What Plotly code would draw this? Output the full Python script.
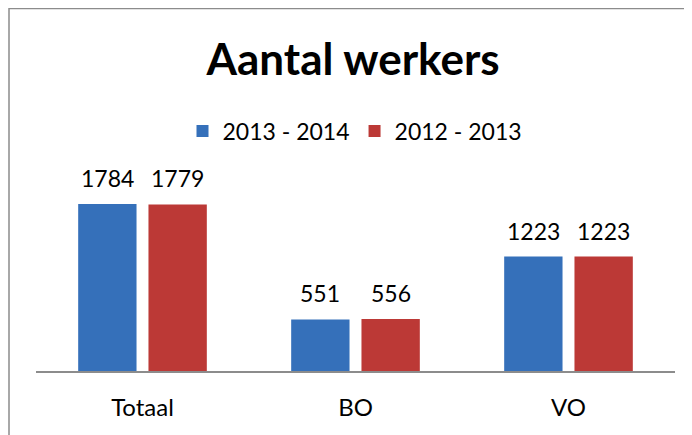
import plotly.graph_objects as go

categories = ["Totaal", "BO", "VO"]
series_names = ["2013 - 2014", "2012 - 2013"]
values_2013_2014 = [1784, 551, 1223]
values_2012_2013 = [1779, 556, 1223]
title_text = "Aantal werkers"

FONT = "Lato, Calibri, Carlito, sans-serif"
OFF = 8  # browser default body margin
W, H = 692 - OFF, 435 - OFF
ML, MR, MT, MB = 36 - OFF, 17, 140 - OFF, 64
PW, PH = W - ML - MR, H - MT - MB
BARGAP, GROUPGAP = 0.34, 0.17
COLORS = ["#3570BA", "#BC3936"]


def px_x(px):  # page pixel -> paper x
    return (px - OFF - ML) / PW


def px_y(py):  # page pixel -> paper y
    return (H + OFF - MB - py) / PH


fig = go.Figure()
all_series = [values_2013_2014, values_2012_2013]
for name, vals, col in zip(series_names, all_series, COLORS):
    fig.add_trace(go.Bar(
        x=categories, y=vals, name=name,
        marker=dict(color=col, line=dict(width=0)),
        hoverinfo="x+y+name",
    ))

# value labels above each bar
slot_px = PW / len(categories) * (1 - BARGAP) / len(all_series)
annotations = []
for si, vals in enumerate(all_series):
    shift = (si - (len(all_series) - 1) / 2) * slot_px
    for cat, v in zip(categories, vals):
        annotations.append(dict(
            x=cat, y=v, xref="x", yref="y", text=str(v), showarrow=False,
            xshift=shift, yshift=26, yanchor="middle", xanchor="center",
            font=dict(size=23, family=FONT, color="#000000"),
        ))

fig.update_layout(
    width=W, height=H,
    margin=dict(l=ML, r=MR, t=MT, b=MB, pad=0, autoexpand=False),
    paper_bgcolor="white", plot_bgcolor="white",
    barmode="group", bargap=BARGAP, bargroupgap=GROUPGAP,
    font=dict(family=FONT, color="#000000"),
    title=dict(text="<b>" + title_text + "</b>", x=px_x(353), xref="paper", xanchor="center",
               y=1 - (60 - OFF) / H, yanchor="middle",
               font=dict(size=44, family=FONT, color="#000000")),
    showlegend=True,
    legend=dict(orientation="h", x=px_x(355), xanchor="center", y=px_y(131), yanchor="middle",
                font=dict(size=23, family=FONT), itemwidth=30,
                traceorder="normal", bgcolor="rgba(0,0,0,0)"),
    xaxis=dict(showline=True, linecolor="#8C8C8C", linewidth=1.5, ticks="",
               showgrid=False, zeroline=False,
               tickfont=dict(size=24, family=FONT), ticklabelstandoff=14),
    yaxis=dict(visible=False, range=[0, PH / 0.0936], showgrid=False, zeroline=False),
    annotations=annotations,
    shapes=[dict(type="rect", xref="paper", yref="paper",
                 x0=-ML / PW + 1 / PW, x1=px_x(W + 40), y0=px_y(H + 40), y1=1 + (MT - 0.5) / PH,
                 line=dict(color="#8C8C8C", width=1.5), fillcolor="rgba(0,0,0,0)",
                 layer="below")],
)

fig.write_html("out.html")
